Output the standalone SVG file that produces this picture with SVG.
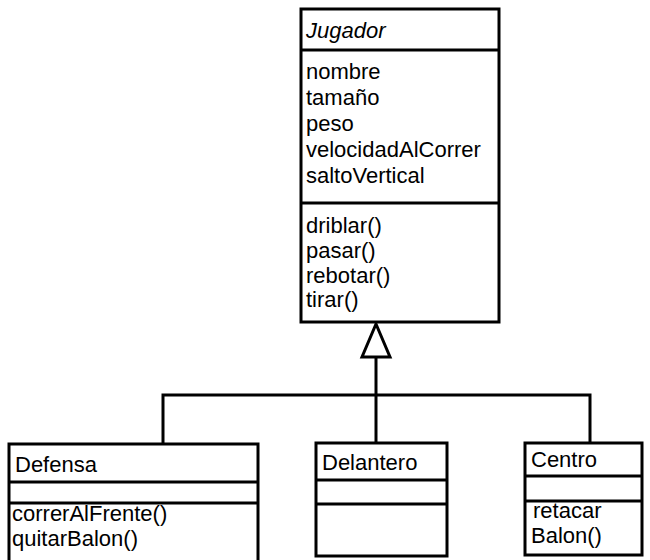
<svg xmlns="http://www.w3.org/2000/svg" width="650" height="560" viewBox="0 0 650 560">
<style>
  .box { fill: #fff; stroke: #000; stroke-width: 3; }
  .sep { stroke: #000; stroke-width: 3; fill: none; }
  .t { font-family: "Liberation Sans", Arial, sans-serif; font-size: 22px; fill: #000; }
  .it { font-style: italic; }
  .conn { stroke: #000; stroke-width: 3; fill: none; }
</style>
<rect x="0" y="0" width="650" height="560" fill="#fff"/>
<g id="connectors">
  <polyline class="conn" points="163,444 163,395 590,395 590,443"/>
  <line class="conn" x1="376" y1="357" x2="376" y2="443"/>
  <polygon points="376,324 362,357 390,357" fill="#fff" stroke="#000" stroke-width="3"/>
</g>
<g id="jugador">
  <rect class="box" x="301" y="9" width="198" height="313"/>
  <line class="sep" x1="301" y1="50" x2="499" y2="50"/>
  <line class="sep" x1="301" y1="203" x2="499" y2="203"/>
  <text class="t it" x="306" y="38">Jugador</text>
  <text class="t" x="306" y="79">nombre</text>
  <text class="t" x="306" y="105">tamaño</text>
  <text class="t" x="306" y="131">peso</text>
  <text class="t" x="306" y="157">velocidadAlCorrer</text>
  <text class="t" x="306" y="183">saltoVertical</text>
  <text class="t" x="306" y="233">driblar()</text>
  <text class="t" x="306" y="258">pasar()</text>
  <text class="t" x="306" y="283">rebotar()</text>
  <text class="t" x="306" y="307">tirar()</text>
</g>
<g id="defensa">
  <rect class="box" x="9" y="444" width="249" height="125"/>
  <line class="sep" x1="9" y1="482" x2="258" y2="482"/>
  <line class="sep" x1="9" y1="503" x2="258" y2="503"/>
  <text class="t" x="15" y="472">Defensa</text>
  <text class="t" x="12" y="521">correrAlFrente()</text>
  <text class="t" x="12" y="546">quitarBalon()</text>
</g>
<g id="delantero">
  <rect class="box" x="316" y="443" width="131" height="113"/>
  <line class="sep" x1="316" y1="480" x2="447" y2="480"/>
  <line class="sep" x1="316" y1="504" x2="447" y2="504"/>
  <text class="t" x="322" y="470">Delantero</text>
</g>
<g id="centro">
  <rect class="box" x="525" y="443" width="117" height="112"/>
  <line class="sep" x1="525" y1="476" x2="642" y2="476"/>
  <line class="sep" x1="525" y1="501" x2="642" y2="501"/>
  <text class="t" x="531" y="467">Centro</text>
  <text class="t" x="533" y="518">retacar</text>
  <text class="t" x="531" y="543">Balon()</text>
</g>
</svg>
